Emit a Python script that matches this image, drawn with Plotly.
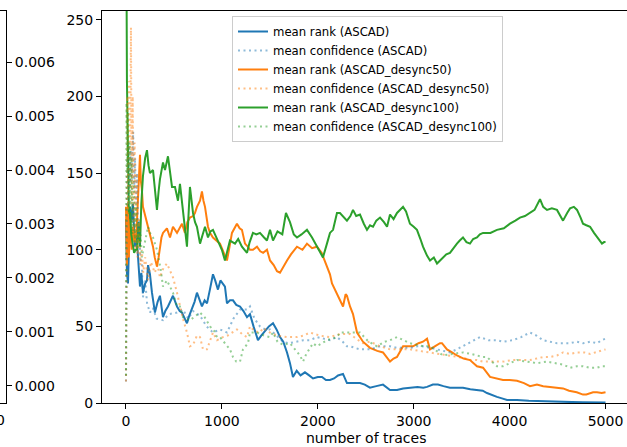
import plotly.graph_objects as go

# ---------------- data ----------------
# (number of traces, value) pairs
ascad_rank = [(0,120),(10,85),(21,78),(30,110),(42,128),(55,118),(73,130),(85,112),(94,102),(110,110),
    (125,93),(146,76),(160,85),(177,72),(200,78),(219,80),(230,90),(250,84),(271,72),(302,59),(330,66),
    (354,70),(386,56),(410,60),(438,63),(460,66),(490,70),(532,63),(560,60),(584,59),(610,55),(636,52),
    (660,57),(688,61),(715,66),(740,72),(770,66),(792,63),(820,67),(845,65),(875,74),(907,84),(930,80),
    (959,74),(985,80),(1011,78),(1032,76),(1053,65),(1084,67),(1116,67),(1150,64),(1189,63),(1225,60),
    (1262,56),(1293,58),(1330,50),(1376,41),(1410,44),(1450,47),(1490,50),(1533,52),(1570,48),(1606,43),
    (1640,40),(1679,33),(1710,26),(1741,17),(1780,21),(1820,18),(1866,20),(1910,18),(1950,16),(2000,17),
    (2044,17),(2085,15),(2127,15),(2170,16),(2211,18),(2263,19),(2304,13),(2360,13),(2440,13),(2490,12),
    (2544,10),(2610,11),(2680,12),(2753,8.5),(2826,8.5),(2890,9.5),(2961,10),(3040,10.5),(3100,10),
    (3139,10.5),(3200,12),(3253,12),(3310,11),(3378,10),(3440,10),(3514,10),(3590,9),(3660,8.5),(3720,8),
    (3764,6.5),(3820,5),(3868,4),(3920,3),(3973,2),(4030,2),(4077,2),(4200,1.5),(4300,1.2),(4421,1),
    (4550,0.8),(4650,0.6),(4765,0.5),(4880,0.4),(5000,0.3)]

ascad_conf = [(0,14),(8,120),(15,160),(22,130),(30,170),(40,140),(50,165),(62,145),(75,177),(85,140),
    (95,160),(105,130),(115,150),(125,110),(135,120),(150,95),(165,90),(177,69),(200,80),(220,65),(250,59),
    (280,62),(320,55),(386,54),(450,58),(532,59),(594,61),(650,55),(700,60),(772,57),(840,50),(907,46),
    (980,48),(1053,46),(1120,55),(1189,61),(1262,61),(1293,63),(1340,55),(1397,50),(1450,48),(1502,48),
    (1570,44),(1637,40),(1700,39),(1783,40),(1850,41),(1920,41),(1991,43),(2060,42),(2127,41),(2200,43),
    (2260,40),(2304,37),(2336,37),(2440,35),(2544,35),(2650,37),(2753,37),(2826,36),(2900,36),(2961,36),
    (3040,37),(3097,37),(3170,36),(3243,35),(3310,34),(3378,33),(3450,35),(3514,37),(3600,40),(3691,43),
    (3780,41),(3868,41),(3931,40),(4035,41),(4120,43),(4213,46),(4280,44),(4348,41),(4420,40),(4494,39),
    (4557,39),(4630,39),(4700,40),(4765,39),(4840,40),(4911,39),(4960,41),(5000,42)]

desync50_rank = [(0,128),(10,90),(20,130),(30,95),(45,120),(60,100),(75,115),(90,105),(110,112),(125,130),
    (138,150),(146,162),(155,145),(165,140),(177,128),(200,122),(219,119),(250,111),(282,102),(300,95),
    (323,89),(340,95),(354,102),(370,108),(386,111),(427,114),(459,108),(490,115),(532,111),(563,115),
    (584,117),(615,111),(640,118),(667,121),(700,122),(719,124),(740,128),(772,132),(792,138),(808,132),
    (824,128),(855,115),(876,111),(907,108),(940,106),(980,104),(1020,98),(1053,93),(1080,102),(1105,111),
    (1157,117),(1185,114),(1209,113),(1241,104),(1270,102),(1293,100),(1324,100),(1366,102),(1400,99),
    (1430,98),(1470,100),(1502,93),(1540,90),(1575,86),(1606,85),(1640,89),(1679,93),(1720,97),(1783,102),
    (1840,100),(1887,104),(1940,101),(1991,102),(2040,98),(2096,89),(2127,84),(2148,78),(2180,74),
    (2231,68),(2263,63),(2290,71),(2304,70),(2336,63),(2367,58),(2409,46),(2440,43),(2471,40),(2544,36),
    (2576,35),(2620,34),(2680,33),(2720,30),(2753,27),(2790,29),(2826,30),(2889,37),(2930,37),(2993,37),
    (3050,39),(3097,40),(3139,42),(3170,35),(3220,37),(3274,39),(3295,39),(3347,35),(3400,33),(3451,31),
    (3520,29),(3587,28),(3660,24),(3723,23),(3796,17),(3860,16),(3931,15),(4000,15),(4077,14.5),
    (4150,13),(4213,11),(4285,12),(4350,11),(4421,10.5),(4490,10),(4557,9.5),(4620,8),(4700,7),
    (4765,5.5),(4800,5.5),(4870,7),(4911,7),(4960,6.5),(5000,7)]

desync50_conf = [(0,14),(8,150),(15,200),(22,120),(30,210),(40,140),(52,245),(60,130),(70,200),(80,110),
    (90,170),(100,100),(110,150),(120,95),(135,120),(150,90),(165,100),(180,85),(200,95),(230,80),
    (260,92),(300,85),(330,90),(354,82),(390,88),(427,91),(460,86),(490,82),(532,72),(590,56),(636,46),
    (667,37),(700,38),(740,44),(772,43),(803,35),(845,35),(880,42),(907,46),(949,41),(1011,43),(1060,44),
    (1116,46),(1157,48),(1210,45),(1262,43),(1293,50),(1340,47),(1397,46),(1430,49),(1500,46),(1575,44),
    (1680,43),(1783,43),(1850,44),(1919,46),(2020,44),(2127,43),(2230,45),(2336,45),(2400,42),(2471,39),
    (2544,40),(2650,37),(2753,35),(2850,35),(2961,35),(3060,34),(3170,33),(3270,32),(3378,31),(3450,30),
    (3514,29.5),(3600,28),(3660,28),(3723,27),(3820,27),(3931,27),(4030,28),(4139,28),(4213,28),(4280,29),
    (4348,30),(4420,30),(4494,31),(4557,33),(4630,32),(4703,33),(4780,33),(4839,32),(4900,33),(5000,35)]

desync100_rank = [(0,256),(7,256),(10,210),(15,196),(22,160),(30,124),(42,124),(55,110),(70,105),(85,98),
    (100,100),(115,100),(130,118),(146,102),(160,130),(177,148),(200,160),(219,165),(235,155),(250,150),
    (282,152),(300,140),(323,126),(340,138),(354,146),(386,157),(407,152),(438,161),(460,150),(480,141),
    (511,141),(542,132),(563,143),(594,124),(615,115),(636,102),(650,120),(667,141),(699,124),(720,118),
    (740,115),(772,104),(800,110),(824,115),(855,108),(880,112),(907,113),(959,106),(1000,100),(1032,93),
    (1060,100),(1084,106),(1137,104),(1170,107),(1209,102),(1262,98),(1290,105),(1324,111),(1360,110),
    (1397,111),(1440,108),(1470,106),(1502,113),(1533,106),(1580,112),(1630,110),(1668,124),(1710,118),
    (1750,110),(1783,108),(1830,110),(1887,113),(1940,108),(1991,102),(2030,97),(2054,95),(2100,105),
    (2127,111),(2159,113),(2200,124),(2231,124),(2270,121),(2304,119),(2340,122),(2367,126),(2400,122),
    (2440,123),(2480,117),(2513,113),(2545,116),(2576,115),(2610,119),(2649,121),(2690,118),(2722,115),
    (2753,123),(2790,120),(2826,124),(2860,126),(2889,128),(2920,125),(2961,117),(3000,115),(3034,113),
    (3070,107),(3097,102),(3140,96),(3170,93),(3210,95),(3243,91),(3275,93),(3306,95),(3340,97),(3378,98),
    (3410,101),(3451,104),(3480,106),(3514,108),(3550,105),(3587,104),(3620,107),(3660,108),(3690,110),
    (3723,111),(3800,111),(3868,113),(3940,114),(4004,117),(4060,119),(4108,121),(4160,122),(4213,124),
    (4260,126),(4317,133),(4350,128),(4390,126),(4440,127),(4494,126),(4530,122),(4557,119),(4600,124),
    (4630,127),(4670,128),(4703,126),(4740,121),(4765,117),(4800,116),(4839,115),(4880,111),(4911,108),
    (4940,106),(4963,104),(4985,105),(5000,105)]

desync100_conf = [(0,18),(5,196),(12,150),(20,190),(28,130),(38,170),(48,120),(58,160),(68,110),(80,145),
    (92,105),(105,130),(118,100),(130,115),(143,105),(153,110),(165,95),(180,100),(200,105),(230,115),
    (250,111),(282,108),(323,100),(360,88),(386,76),(427,80),(490,72),(532,63),(563,63),(594,56),(667,54),
    (772,59),(820,56),(876,50),(920,47),(949,43),(980,43),(1050,38),(1084,35),(1116,30),(1150,27),
    (1189,27),(1220,35),(1272,39),(1293,46),(1366,46),(1440,44),(1502,43),(1533,46),(1580,40),(1637,38),
    (1710,39),(1783,33),(1814,31),(1846,27),(1880,32),(1950,39),(1991,37),(2096,41),(2200,43),(2231,46),
    (2336,46),(2440,46),(2530,40),(2617,37),(2700,40),(2753,41),(2826,43),(2890,41),(2961,39),(3030,38),
    (3097,37),(3170,37),(3240,34),(3306,31),(3400,32),(3514,33),(3600,32),(3723,30),(3764,30),(3820,27),
    (3868,24),(3931,24),(4000,26),(4077,28),(4180,27),(4285,26),(4390,27),(4494,26),(4560,25),(4630,23),
    (4700,24),(4765,24),(4840,23),(4911,23),(4960,24),(5000,24)]

rank_ticks = [0, 50, 100, 150, 200, 250]
trace_ticks = [0, 1000, 2000, 3000, 4000, 5000]
conf_ticks = [0.000, 0.001, 0.002, 0.003, 0.004, 0.005, 0.006]
conf_labels = ["0.000", "0.001", "0.002", "0.003", "0.004", "0.005", "0.006"]

series = [
    ("mean rank (ASCAD)", ascad_rank, "#1f77b4", False),
    ("mean confidence (ASCAD)", ascad_conf, "#1f77b4", True),
    ("mean rank (ASCAD_desync50)", desync50_rank, "#ff7f0e", False),
    ("mean confidence (ASCAD_desync50)", desync50_conf, "#ff7f0e", True),
    ("mean rank (ASCAD_desync100)", desync100_rank, "#2ca02c", False),
    ("mean confidence (ASCAD_desync100)", desync100_conf, "#2ca02c", True),
]

W, H = 627, 447
FONT = "DejaVu Sans"

fig = go.Figure()
# rank lines first, confidence lines drawn on top (like a twin axis)
draw_order = [0, 2, 4, 1, 3, 5]
for i in draw_order:
    name, pts, col, dotted = series[i]
    fig.add_trace(go.Scatter(
        x=[p[0] for p in pts], y=[p[1] for p in pts], mode="lines", name=name,
        legendrank=i + 1,
        line=dict(color=col, width=2, dash="2px,3.5px" if dotted else "solid"),
        opacity=0.5 if dotted else 1.0,
        xaxis="x", yaxis="y",
    ))

# invisible helper trace for the partially visible neighbouring panel
fig.add_trace(go.Scatter(x=[0], y=[0], mode="markers", marker=dict(opacity=0),
                         showlegend=False, hoverinfo="skip", xaxis="x2", yaxis="y2"))

y0 = (H - 403) / H
y1 = (H - 10.7) / H
axis_common = dict(showgrid=False, zeroline=False, linecolor="black", linewidth=1.1,
                   ticks="outside", ticklen=5, tickwidth=1.1, tickcolor="black",
                   tickfont=dict(family=FONT, size=14, color="black"))

fig.update_layout(
    width=W, height=H,
    margin=dict(l=0, r=0, t=0, b=0, autoexpand=False),
    paper_bgcolor="white", plot_bgcolor="white",
    font=dict(family=FONT, color="black"),
    xaxis=dict(domain=[102 / W, 1], range=[-250, 5224], tickvals=trace_ticks,
               showline=True, mirror=True, **axis_common),
    yaxis=dict(domain=[y0, y1], range=[0, 256], tickvals=rank_ticks,
               showline=True, mirror=False, **axis_common),
    xaxis2=dict(domain=[0, 6 / W], range=[0, 1], showline=True, mirror=True,
                showticklabels=False, ticks="", showgrid=False, zeroline=False,
                linecolor="black", linewidth=1.1, anchor="y2"),
    yaxis2=dict(domain=[y0, y1], range=[-0.000315, 0.00695], anchor="x2", side="right",
                tickvals=conf_ticks, ticktext=conf_labels, showline=True, mirror=False,
                **axis_common),
    legend=dict(x=232 / W, y=(H - 16) / H, xanchor="left", yanchor="top",
                bgcolor="rgba(255,255,255,0.8)", bordercolor="#cccccc", borderwidth=1,
                font=dict(family=FONT, size=11.7, color="black"),
                traceorder="normal"),
    showlegend=True,
)

fig.add_annotation(text="number of traces", xref="paper", yref="paper",
                   x=366 / W, y=(H - 438) / H, xanchor="center", yanchor="middle",
                   showarrow=False, font=dict(family=FONT, size=14, color="black"))
# clipped tick label of the neighbouring panel at the far left edge
fig.add_annotation(text="0", xref="paper", yref="paper",
                   x=0.5 / W, y=(H - 420) / H, xanchor="center", yanchor="middle",
                   showarrow=False, font=dict(family=FONT, size=14, color="black"))

fig.write_html("out.html")
